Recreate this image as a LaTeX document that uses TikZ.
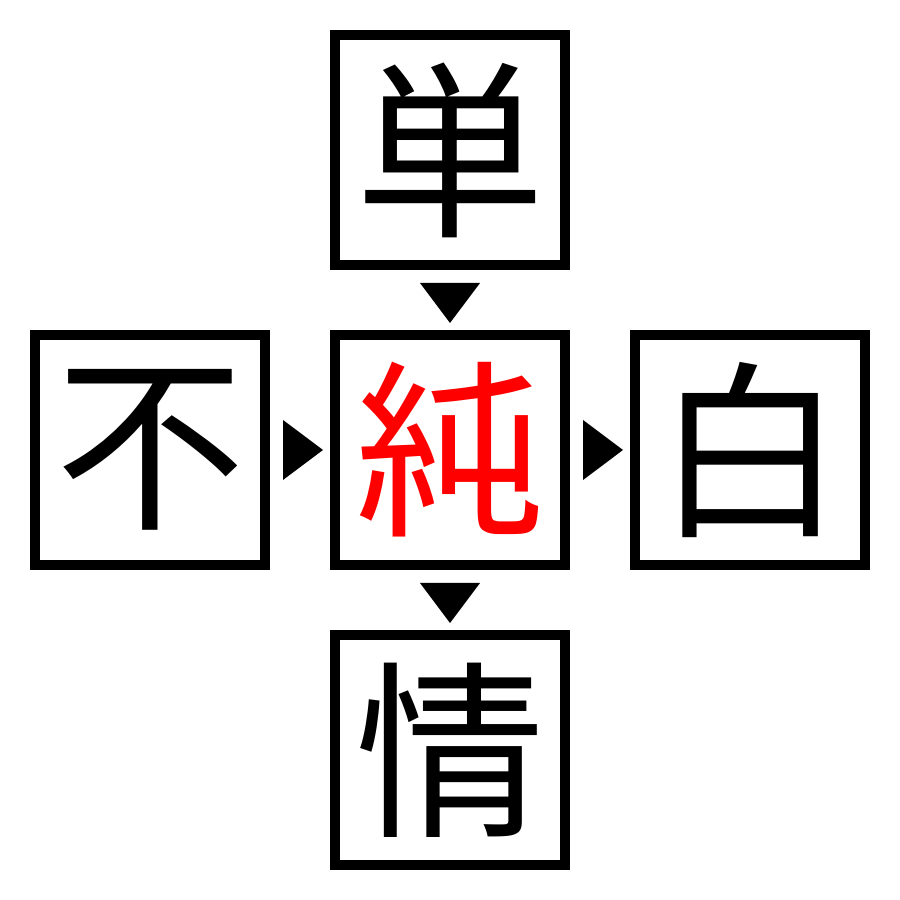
\documentclass[tikz,border=0pt]{standalone}
\usepackage{fontspec}
\newfontfamily\cjk{Noto Sans CJK JP}
\usetikzlibrary{calc}
\tikzset{
  kbox/.style={draw=black, line width=0.1cm, minimum size=2.3cm, inner sep=0pt,
    font=\cjk\fontsize{54pt}{54pt}\selectfont, text=black},
  tri/.style={fill=black}
}
\begin{document}
\begin{tikzpicture}
\useasboundingbox[fill=white] (0,0) rectangle (9,9);
\node[kbox] (top) at (4.5,7.5) {単};
\node[kbox, text=red] (c) at (4.5,4.5) {純};
\node[kbox] (left) at (1.5,4.5) {不};
\node[kbox] (right) at (7.5,4.5) {白};
\node[kbox] (bot) at (4.5,1.5) {情};
\coordinate (m1) at ($(top.south)!0.5!(c.north)$);
\coordinate (m2) at ($(c.south)!0.5!(bot.north)$);
\coordinate (m3) at ($(left.east)!0.5!(c.west)$);
\coordinate (m4) at ($(c.east)!0.5!(right.west)$);
\fill[tri] ($(m1)+(-0.3,0.17)$) -- ($(m1)+(0.3,0.17)$) -- ($(m1)+(0,-0.23)$) -- cycle;
\fill[tri] ($(m2)+(-0.3,0.17)$) -- ($(m2)+(0.3,0.17)$) -- ($(m2)+(0,-0.23)$) -- cycle;
\fill[tri] ($(m3)+(-0.17,0.3)$) -- ($(m3)+(-0.17,-0.3)$) -- ($(m3)+(0.23,0)$) -- cycle;
\fill[tri] ($(m4)+(-0.17,0.3)$) -- ($(m4)+(-0.17,-0.3)$) -- ($(m4)+(0.23,0)$) -- cycle;
\end{tikzpicture}
\end{document}
